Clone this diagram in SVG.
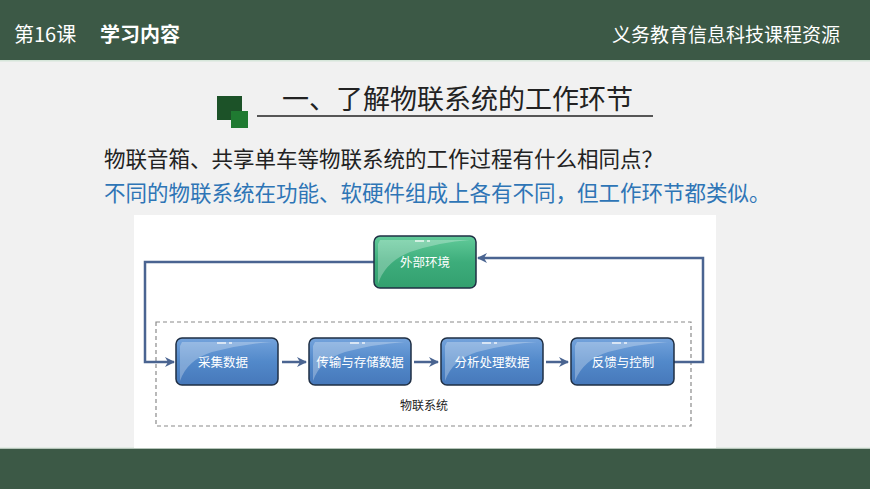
<svg xmlns="http://www.w3.org/2000/svg" width="870" height="489" viewBox="0 0 870 489">
<defs>
<linearGradient id="gBlue" x1="0" y1="0" x2="0" y2="1">
<stop offset="0" stop-color="#74a3dc"/>
<stop offset="0.5" stop-color="#5289ca"/>
<stop offset="1" stop-color="#4678ba"/>
</linearGradient>
<linearGradient id="gGreen" x1="0" y1="0" x2="0" y2="1">
<stop offset="0" stop-color="#62cb9a"/>
<stop offset="0.5" stop-color="#3dad7b"/>
<stop offset="1" stop-color="#33a06f"/>
</linearGradient>
<marker id="arr" viewBox="0 0 10 10" refX="9" refY="5" markerWidth="4" markerHeight="4" orient="auto" markerUnits="strokeWidth">
<path d="M0,0 L10,5 L0,10 L3,5 Z" fill="#4a6491"/>
</marker>
<style>
.bar{fill:#3c5946}
.hdr{font-family:"Noto Sans CJK SC","Noto Sans",sans-serif;fill:#ffffff}
.node{stroke:#1f2f44;stroke-width:1.5}
.gloss{fill:#ffffff;opacity:0.28}
.dash{stroke:#ffffff;stroke-width:1.5;opacity:0.85}
.nt{font-family:"Noto Sans CJK SC","Noto Sans",sans-serif;font-size:12.5px;fill:#ffffff;text-anchor:middle}
.conn{fill:none;stroke:#4a6491;stroke-width:2.5}
</style>
</defs>
<rect x="0" y="0" width="870" height="489" fill="#f1f1f1"/>
<rect class="bar" x="0" y="0" width="870" height="60"/>
<rect x="0" y="60" width="870" height="1.5" fill="#d6e6da"/>
<text class="hdr" x="14" y="42" font-size="20">第16课</text>
<text class="hdr" x="100" y="42" font-size="20" font-weight="bold">学习内容</text>
<text class="hdr" x="840" y="42" font-size="19" text-anchor="end">义务教育信息科技课程资源</text>
<rect class="bar" x="0" y="448.5" width="870" height="40.5"/>
<rect x="0" y="447.5" width="870" height="1" fill="#d6e6da"/>

<rect x="217" y="96" width="25" height="24" fill="#1c5228"/>
<rect x="231" y="111" width="17" height="17" fill="#1f7a31"/>
<line x1="257" y1="116" x2="653" y2="116" stroke="#222" stroke-width="1.3"/>
<text x="282" y="109" font-family="Noto Sans CJK SC,sans-serif" font-size="27" fill="#222">一、了解物联系统的工作环节</text>
<text x="104" y="167" font-family="Noto Sans CJK SC,sans-serif" font-size="21.5" fill="#222">物联音箱、共享单车等物联系统的工作过程有什么相同点？</text>
<text x="104" y="201" font-family="Noto Sans CJK SC,sans-serif" font-size="21.5" fill="#2e75b6">不同的物联系统在功能、软硬件组成上各有不同，但工作环节都类似。</text>

<rect x="134" y="215" width="582" height="233" fill="#ffffff"/>
<rect x="156" y="322" width="535" height="104" fill="none" stroke="#8a8a8a" stroke-width="1.2" stroke-dasharray="4,3"/>
<text x="424" y="410" font-family="Noto Sans CJK SC,sans-serif" font-size="12" fill="#222" text-anchor="middle">物联系统</text>

<g id="connectors">
<path class="conn" d="M374,262 H145 V362 H174" marker-end="url(#arr)"/>
<path class="conn" d="M674,362 H703 V258 H478" marker-end="url(#arr)"/>
<path class="conn" d="M282,362 H306" marker-end="url(#arr)"/>
<path class="conn" d="M414,362 H438" marker-end="url(#arr)"/>
<path class="conn" d="M546,362 H568" marker-end="url(#arr)"/>
</g>

<g id="env">
<rect class="node" x="374" y="236" width="102" height="52" rx="6" fill="url(#gGreen)"/>
<path class="gloss" d="M380,240 H470 Q440,242 410,252 Q385,262 378,284 V244 Z"/>
<line class="dash" x1="415" y1="241" x2="424" y2="241"/><line class="dash" x1="427" y1="241" x2="430" y2="241"/>
<text class="nt" x="425" y="267">外部环境</text>
</g>
<g id="collect">
<rect class="node" x="176" y="338" width="102" height="47" rx="6" fill="url(#gBlue)"/>
<path class="gloss" d="M182,342 H272 Q242,344 212,352 Q187,360 180,381 V346 Z"/>
<line class="dash" x1="217" y1="343" x2="226" y2="343"/><line class="dash" x1="229" y1="343" x2="232" y2="343"/>
<text class="nt" x="223" y="367">采集数据</text>
</g>
<g id="transmit">
<rect class="node" x="309" y="338" width="102" height="47" rx="6" fill="url(#gBlue)"/>
<path class="gloss" d="M315,342 H405 Q375,344 345,352 Q320,360 313,381 V346 Z"/>
<line class="dash" x1="350" y1="343" x2="359" y2="343"/><line class="dash" x1="362" y1="343" x2="365" y2="343"/>
<text class="nt" x="360" y="367">传输与存储数据</text>
</g>
<g id="analyze">
<rect class="node" x="441" y="338" width="102" height="47" rx="6" fill="url(#gBlue)"/>
<path class="gloss" d="M447,342 H537 Q507,344 477,352 Q452,360 445,381 V346 Z"/>
<line class="dash" x1="482" y1="343" x2="491" y2="343"/><line class="dash" x1="494" y1="343" x2="497" y2="343"/>
<text class="nt" x="492" y="367">分析处理数据</text>
</g>
<g id="feedback">
<rect class="node" x="571" y="338" width="103" height="47" rx="6" fill="url(#gBlue)"/>
<path class="gloss" d="M577,342 H668 Q638,344 608,352 Q583,360 575,381 V346 Z"/>
<line class="dash" x1="612" y1="343" x2="621" y2="343"/><line class="dash" x1="624" y1="343" x2="627" y2="343"/>
<text class="nt" x="623" y="367">反馈与控制</text>
</g>
</svg>
